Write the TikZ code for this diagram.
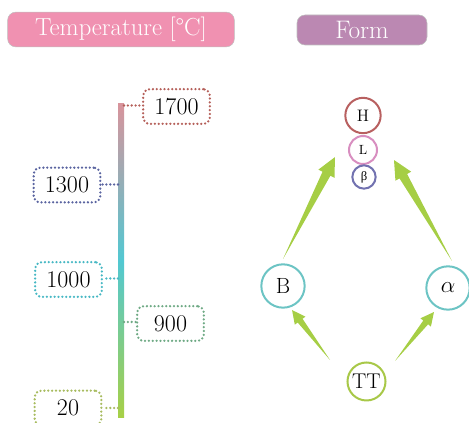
\documentclass[tikz,border=0pt]{standalone}
\usepackage{fontspec}
\newfontfamily\greekfont{Liberation Serif}
\usetikzlibrary{calc}

\definecolor{hdrpink}{HTML}{F091B1}
\definecolor{hdrmauve}{HTML}{BB88B2}
\definecolor{barTop}{HTML}{D8949C}
\definecolor{barMid}{HTML}{52C8D2}
\definecolor{barBot}{HTML}{A8D045}
\definecolor{cA}{HTML}{B5605A}
\definecolor{cB}{HTML}{5A64A0}
\definecolor{cC}{HTML}{48B8C4}
\definecolor{cD}{HTML}{6FAA85}
\definecolor{cE}{HTML}{A8BC60}
\definecolor{ringH}{HTML}{B86060}
\definecolor{ringL}{HTML}{D88EC0}
\definecolor{ringBeta}{HTML}{7272B0}
\definecolor{ringTeal}{HTML}{6CC4C4}
\definecolor{ringTT}{HTML}{A8C848}
\definecolor{arrowgreen}{HTML}{A6CE45}

% tapered arrow: start, end, head length, head half width, body half width
\newcommand\wedgearrow[5]{%
  \fill[arrowgreen] let \p1=(#1), \p2=(#2),
    \n1={atan2(\y2-\y1,\x2-\x1)}, \n2={veclen(\x2-\x1,\y2-\y1)} in
    [shift={(\p1)}, rotate=\n1]
    (0pt,0pt) -- ({\n2-#3},#5) -- ({\n2-#3},#4) -- ({\n2},0pt)
    -- ({\n2-#3},-#4) -- ({\n2-#3},-#5) -- cycle;}

\tikzset{
  header/.style={rounded corners=6pt, draw=black!25, line width=0.4pt,
    text=white, inner sep=0pt},
  dotline/.style={line width=1.9pt, line cap=round, dash pattern=on 0pt off 2.9pt},
  valbox/.style={draw=#1, dotline, rounded corners=5pt,
    minimum width=50pt, minimum height=26pt,
    inner sep=0pt, font=\fontsize{18}{20}\selectfont},
  tick/.style={draw=#1, dotline},
  ring/.style={circle, draw=#1, line width=1.5pt, inner sep=0pt, fill=white},
}

\begin{document}
\begin{tikzpicture}[x=0.75pt, y=-0.75pt]
\useasboundingbox (0,0) rectangle (469,423);

% headers
\node[header, fill=hdrpink, minimum width=170pt, minimum height=26pt,
  font=\fontsize{18.5}{21}\selectfont] (temp) at (121,29.5) {Temperature [°C]};
\node[header, fill=hdrmauve, minimum width=97.5pt, minimum height=22.5pt,
  font=\fontsize{19}{21}\selectfont] (form) at (362,30) {Form};

% temperature scale bar
\shade[top color=barTop, bottom color=barBot, middle color=barMid] (118,104) rectangle (124,418);
\coordinate (barTopPt) at (121,104);
\coordinate (barBotPt) at (121,418);

% value boxes
\node[valbox=cA] (v1700) at (176.5,106.5) {1700};
\node[valbox=cB] (v1300) at (67,185) {1300};
\node[valbox=cC] (v1000) at (68.5,279.5) {1000};
\node[valbox=cD] (v900) at (170.5,323.5) {900};
\node[valbox=cE] (v20) at (68,408) {20};

% dotted leaders onto the bar
\coordinate (t1700) at (124,105.5);
\coordinate (t1300) at (118,184.5);
\coordinate (t1000) at (118,278.5);
\coordinate (t900) at (124,322);
\coordinate (t20) at (118,408);
\draw[tick=cA] (t1700) -- (v1700.west |- t1700);
\draw[tick=cB] (t1300) -- (v1300.east |- t1300);
\draw[tick=cC] (t1000) -- (v1000.east |- t1000);
\draw[tick=cD] (t900) -- (v900.west |- t900);
\draw[tick=cE] (t20) -- (v20.east |- t20);

% phase circles
\node[ring=ringH, minimum size=26.5pt, font=\fontsize{12.5}{14}\selectfont] (H) at (363,115.5) {H};
\node[ring=ringL, minimum size=21pt, font=\fontsize{10}{12}\selectfont] (L) at (363,150) {L};
\node[ring=ringBeta, minimum size=17.5pt, font=\greekfont\fontsize{9.5}{11}\selectfont] (beta) at (364,177) {β};
\node[ring=ringTeal, minimum size=32.5pt, font=\fontsize{16.5}{18}\selectfont] (B) at (283,286) {B};
\node[ring=ringTeal, minimum size=32.5pt, font=\fontsize{16.5}{18}\selectfont] (alpha) at (448,288) {$\alpha$};
\node[ring=ringTT, minimum size=28.5pt, font=\fontsize{16}{18}\selectfont] (TT) at (366.5,381.5) {TT};

% transformation arrows
\coordinate (aBs) at (283,259);
\coordinate (aBe) at (335,157);
\coordinate (aAs) at (452,261);
\coordinate (aAe) at (394,160);
\coordinate (aTBs) at (330,360);
\coordinate (aTBe) at (292,310);
\coordinate (aTAs) at (395,361);
\coordinate (aTAe) at (434,312);
\wedgearrow{aBs}{aBe}{14pt}{6.8pt}{3.3pt}
\wedgearrow{aAs}{aAe}{14pt}{6.8pt}{3.3pt}
\wedgearrow{aTBs}{aTBe}{10pt}{5pt}{2.3pt}
\wedgearrow{aTAs}{aTAe}{10pt}{5pt}{2.3pt}
\end{tikzpicture}
\end{document}
